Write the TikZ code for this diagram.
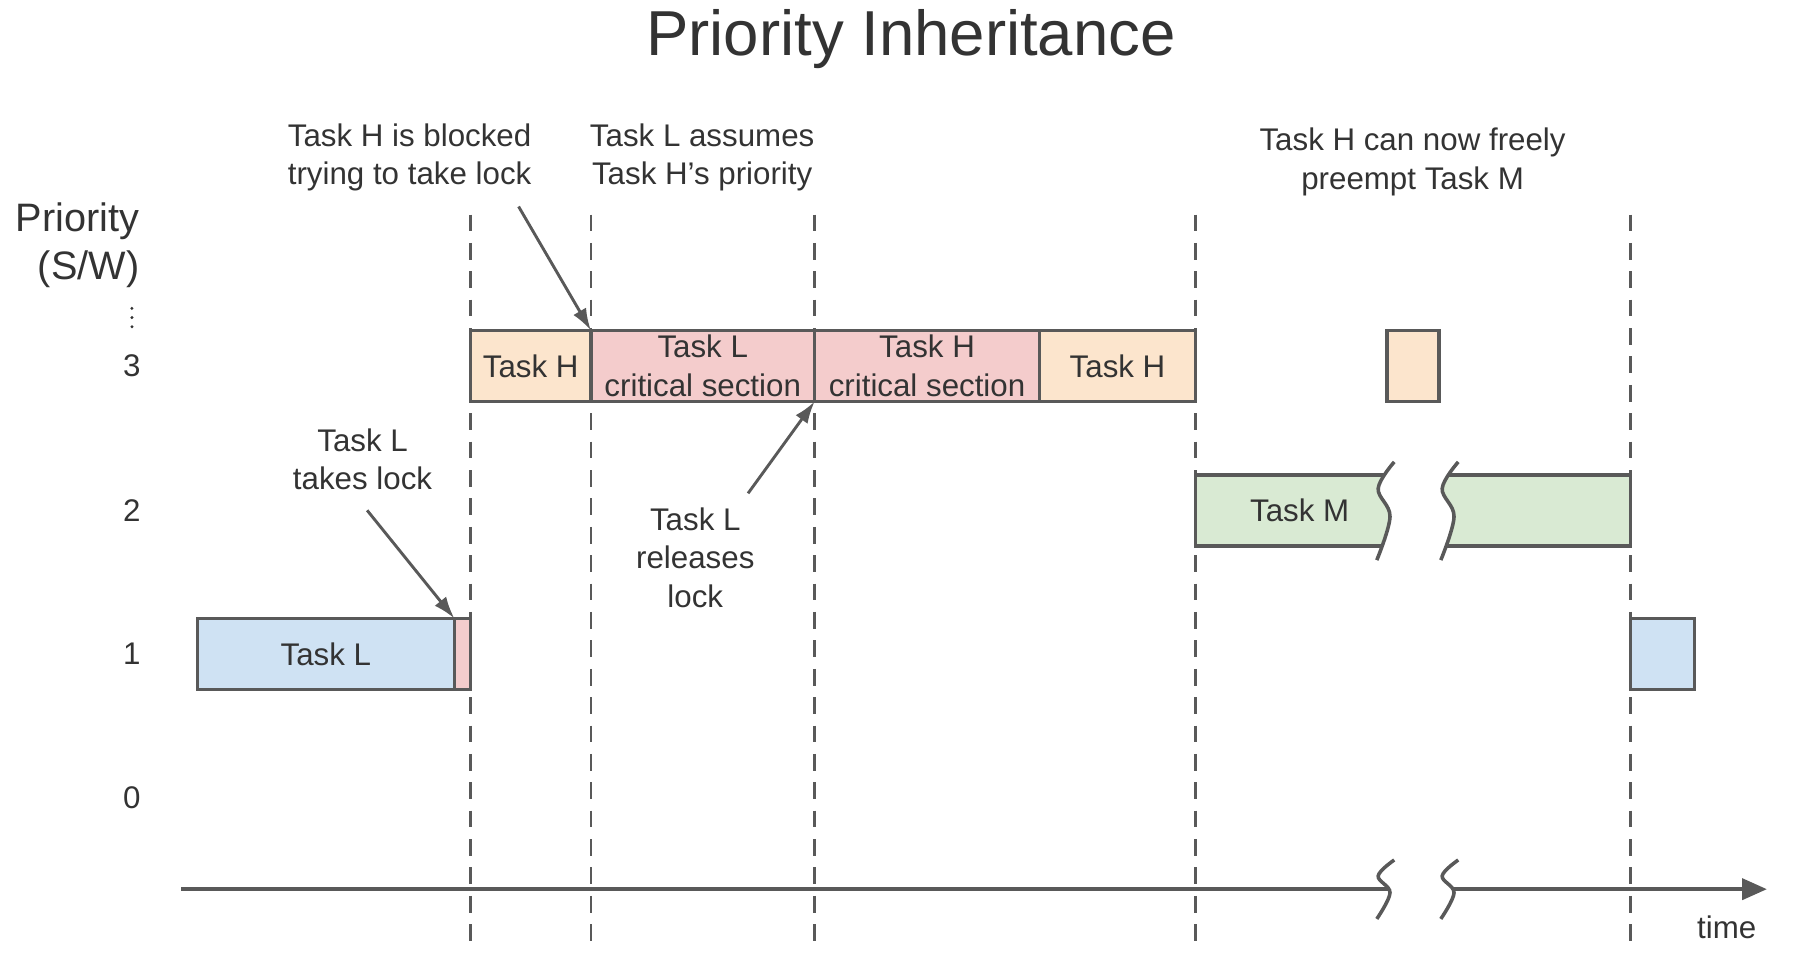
\documentclass[tikz,border=0pt]{standalone}
\usepackage{fontspec}
\setmainfont{Liberation Sans}
\usetikzlibrary{positioning, arrows.meta}

\definecolor{peach}{HTML}{FCE5CD}
\definecolor{rose}{HTML}{F4CCCC}
\definecolor{skyblue}{HTML}{CFE2F3}
\definecolor{mint}{HTML}{D9EAD3}
\definecolor{linegray}{HTML}{595959}
\definecolor{ink}{HTML}{333333}

\newcommand{\lblsize}{\fontsize{9.7}{11.9}\selectfont}
\newcommand{\prisize}{\fontsize{12.3}{14.9}\selectfont}
\newcommand{\titlesize}{\fontsize{19.7}{23}\selectfont}

\begin{document}
\begin{tikzpicture}[
  box/.style={draw=linegray, line width=1.1pt, outer sep=0pt, inner sep=0pt,
    minimum height=0.775cm, align=center, font=\lblsize, text=ink},
  lbl/.style={font=\lblsize, text=ink, align=center, inner sep=0pt},
  guide/.style={draw=linegray, line width=0.8pt, dash pattern=on 5.2pt off 3.6pt},
  arr/.style={draw=linegray, line width=0.9pt, -{Latex[length=2.4mm,width=1.6mm]}},
  brkline/.style={draw=linegray, line width=1.1pt},
  brkgap/.pic={
    \fill[white] plot[smooth, tension=0.6] coordinates {(0.1,0.53) (-0.075,0.24) (0.054,-0.066) (-0.09,-0.54)}
      -- plot[smooth, tension=0.6] coordinates {(0.6075,-0.54) (0.7515,-0.066) (0.6225,0.24) (0.7975,0.53)} -- cycle;
    \draw[brkline] plot[smooth, tension=0.6] coordinates {(0.1,0.53) (-0.075,0.24) (0.054,-0.066) (-0.09,-0.54)};
    \draw[brkline] plot[smooth, tension=0.6] coordinates {(0.7975,0.53) (0.6225,0.24) (0.7515,-0.066) (0.6075,-0.54)};
  }
]
\useasboundingbox (0,0) rectangle (19.6,10.65);

% Title
\node[font=\titlesize, text=ink, anchor=base] (title) at (9.925,10.05) {Priority Inheritance};

% Priority axis labels
\node[font=\prisize, text=ink, align=right, anchor=north east, inner sep=0pt] (prio) at (1.525,8.45) {Priority\\(S/W)};
\fill[ink] (1.4375,7.29) circle (0.018);
\fill[ink] (1.4375,7.19) circle (0.018);
\fill[ink] (1.4375,7.09) circle (0.018);
\node[lbl] (p3) at (1.4375,6.6625) {3};
\node[lbl] (p2) at (1.4375,5.0875) {2};
\node[lbl] (p1) at (1.4375,3.525) {1};
\node[lbl] (p0) at (1.4375,1.9625) {0};

% Dashed time markers
\draw[guide] (5.125,8.3125) -- (5.125,0.275);
\draw[guide] (6.4375,8.3125) -- (6.4375,0.275);
\draw[guide] (8.875,8.3125) -- (8.875,0.275);
\draw[guide] (13.025,8.3125) -- (13.025,0.275);
\draw[guide] (17.7625,8.3125) -- (17.7625,0.275);

% Time axis with break
\coordinate (t0) at (1.975,0.9625);
\coordinate (t1) at (19.25,0.9625);
\draw[linegray, line width=1.1pt, -{Triangle[length=2.7mm,width=2.3mm]}] (t0) -- (t1);
\pic[yscale=0.6] at (15.09,0.9625) {brkgap};
\node[lbl] (tlab) at (18.8125,0.55) {time};

% Priority 3 row
\node[box, fill=peach, minimum width=1.3125cm, anchor=west] (hpre) at (5.125,6.6625) {Task H};
\node[box, fill=rose, minimum width=2.4375cm, right=0pt of hpre] (lcs) {Task L\\critical section};
\node[box, fill=rose, minimum width=2.45cm, right=0pt of lcs] (hcs) {Task H\\critical section};
\node[box, fill=peach, minimum width=1.7cm, right=0pt of hcs] (hpost) {Task H};
\node[box, fill=peach, minimum width=0.5625cm, anchor=west] (hbrief) at (15.1125,6.6625) {};

% Priority 2 row (Task M, broken)
\node[box, fill=mint, minimum width=4.7375cm, anchor=west] (mrun) at (13.025,5.0875) {};
\pic at (15.09,5.0875) {brkgap};
\node[lbl] (mlab) at (14.16,5.0875) {Task M};

% Priority 1 row
\node[box, fill=skyblue, minimum width=2.8cm, anchor=west] (lpre) at (2.15,3.525) {Task L};
\node[box, fill=rose, minimum width=0.175cm, right=0pt of lpre] (lk) {};
\node[box, fill=skyblue, minimum width=0.7cm, anchor=west] (lpost) at (17.7625,3.525) {};

% Annotations
\node[lbl, anchor=north] (blk) at (4.4625,9.31) {Task H is blocked\\trying to take lock};
\node[lbl, anchor=north] (asm) at (7.65,9.31) {Task L assumes\\Task H’s priority};
\node[lbl, anchor=north] (frl) at (15.39,9.2625) {Task H can now freely\\preempt Task M};
\node[lbl, anchor=north] (tkl) at (3.95,5.99) {Task L\\takes lock};
\node[lbl, anchor=north] (rel) at (7.575,5.125) {Task L\\releases\\lock};

% Annotation arrows
\coordinate (blkfoot) at (5.65,8.4);
\draw[arr] (blkfoot) -- (lcs.north west);
\coordinate (tklfoot) at (4.0,5.09);
\draw[arr] (tklfoot) -- (lk.north west);
\coordinate (relhead) at (8.15,5.275);
\draw[arr] (relhead) -- (hcs.south west);

\end{tikzpicture}
\end{document}
